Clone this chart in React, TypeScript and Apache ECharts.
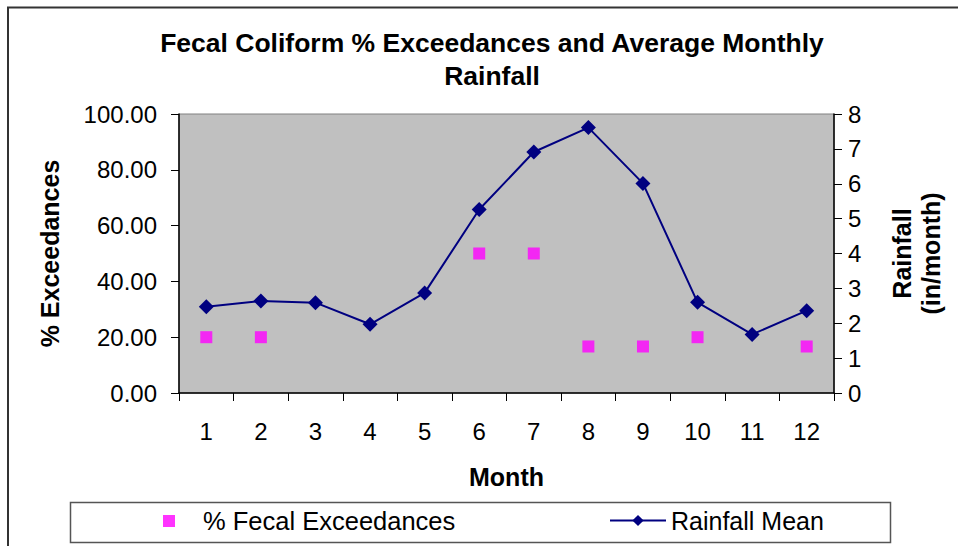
import React, { useEffect, useRef } from "react";
import * as echarts from "echarts";

const months = ["1", "2", "3", "4", "5", "6", "7", "8", "9", "10", "11", "12"];
const fecalExceedances: (number | null)[] = [20, 20, null, null, null, 50, 50, 16.67, 16.67, 20, null, 16.67];
const rainfallMean: number[] = [2.47, 2.64, 2.59, 1.97, 2.87, 5.26, 6.91, 7.61, 6.01, 2.6, 1.68, 2.36];
const leftTicks = { min: 0, max: 100, interval: 20 };
const rightTicks = { min: 0, max: 8, interval: 1 };

const FONT = "'Liberation Sans', Arial, sans-serif";

export default function App() {
  const ref = useRef<HTMLDivElement>(null);
  useEffect(() => {
    if (!ref.current) return;
    const chart = echarts.init(ref.current, undefined, { renderer: "svg" });
    chart.setOption({
      animation: false,
      backgroundColor: "#ffffff",
      textStyle: { fontFamily: FONT, color: "#000" },
      title: {
        text: "Fecal Coliform % Exceedances and Average Monthly\nRainfall",
        left: 487,
        textAlign: "center",
        top: 21,
        textStyle: { fontFamily: FONT, fontSize: 26.5, fontWeight: "bold", color: "#000", lineHeight: 33 },
      },
      graphic: [
        {
          type: "rect",
          shape: { x: 8, y: 7.5, width: 1200, height: 800 },
          style: { fill: "none", stroke: "#333", lineWidth: 2 },
          z: -10,
          silent: true,
        },
        {
          type: "rect",
          shape: { x: 70.5, y: 502.5, width: 820, height: 40 },
          style: { fill: "#fff", stroke: "#555", lineWidth: 1.5 },
          z: 0,
          silent: true,
        },
      ],
      legend: [
        {
          data: [{ name: "% Fecal Exceedances", icon: "rect" }],
          left: 163,
          top: 508,
          padding: 0,
          itemWidth: 12,
          itemHeight: 12,
          textStyle: { fontFamily: FONT, fontSize: 25.5, color: "#000", padding: [0, 0, 0, 23] },
          z: 5,
        },
        {
          data: ["Rainfall Mean"],
          left: 609,
          top: 508,
          padding: 0,
          itemWidth: 56,
          itemHeight: 14,
          textStyle: { fontFamily: FONT, fontSize: 25, color: "#000" },
          z: 5,
        },
      ],
      grid: {
        left: 179,
        right: 124,
        top: 114,
        bottom: 153,
        show: true,
        backgroundColor: "#c0c0c0",
        borderColor: "#808080",
        borderWidth: 1,
      },
      xAxis: {
        type: "category",
        data: months,
        boundaryGap: true,
        name: "Month",
        nameLocation: "middle",
        nameGap: 71,
        nameTextStyle: { fontFamily: FONT, fontSize: 25, fontWeight: "bold", color: "#000" },
        axisLine: { lineStyle: { color: "#000", width: 1.5 } },
        axisTick: { show: true, length: 8, lineStyle: { color: "#000" }, alignWithLabel: false },
        axisLabel: { fontFamily: FONT, fontSize: 24, color: "#000", margin: 26 },
        splitLine: { show: false },
      },
      yAxis: [
        {
          type: "value",
          ...leftTicks,
          position: "left",
          name: "% Exceedances",
          nameLocation: "middle",
          nameRotate: 90,
          nameGap: 117,
          nameTextStyle: { fontFamily: FONT, fontSize: 25, fontWeight: "bold", color: "#000" },
          axisLine: { show: true, lineStyle: { color: "#000", width: 1.5 } },
          axisTick: { show: true, length: 8, lineStyle: { color: "#000" } },
          axisLabel: {
            fontFamily: FONT,
            fontSize: 24,
            color: "#000",
            margin: 22,
            formatter: (v: number) => v.toFixed(2),
          },
          splitLine: { show: false },
        },
        {
          type: "value",
          ...rightTicks,
          position: "right",
          name: "Rainfall\n(in/month)",
          nameLocation: "middle",
          nameRotate: 90,
          nameGap: 53,
          nameTextStyle: { fontFamily: FONT, fontSize: 25, fontWeight: "bold", color: "#000", lineHeight: 29 },
          axisLine: { show: true, lineStyle: { color: "#000", width: 1.5 } },
          axisTick: { show: true, length: 8, lineStyle: { color: "#000" } },
          axisLabel: { fontFamily: FONT, fontSize: 24, color: "#000", margin: 14 },
          splitLine: { show: false },
        },
      ],
      series: [
        {
          name: "% Fecal Exceedances",
          type: "scatter",
          yAxisIndex: 0,
          data: fecalExceedances,
          symbol: "rect",
          symbolSize: 12,
          itemStyle: { color: "#ff00ff" },
          z: 3,
        },
        {
          name: "Rainfall Mean",
          type: "line",
          yAxisIndex: 1,
          data: rainfallMean,
          symbol: "diamond",
          symbolSize: 15,
          showAllSymbol: true,
          lineStyle: { color: "#000080", width: 2 },
          itemStyle: { color: "#000080" },
          z: 4,
        },
      ],
    });
    return () => chart.dispose();
  }, []);
  return (
    <div
      ref={ref}
      style={{ position: "fixed", left: 0, top: 0, width: 958, height: 546 }}
    />
  );
}
